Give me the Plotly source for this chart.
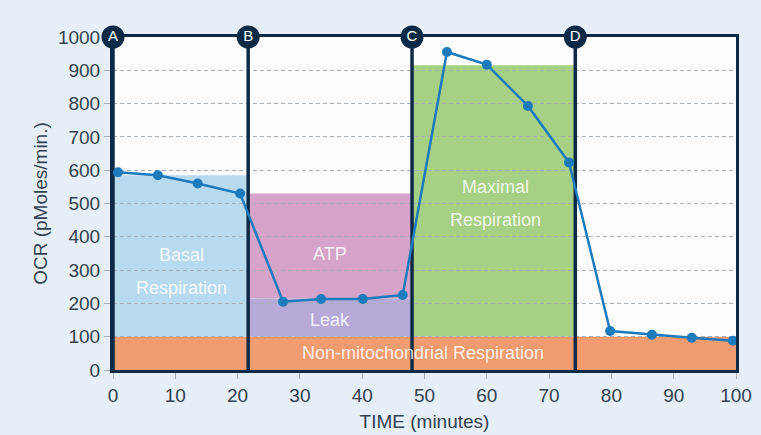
import plotly.graph_objects as go

# ─── Data ─────────────────────────────────────────────────────────────────────
time = [0.8, 7.2, 13.6, 20.4, 27.3, 33.4, 40.1, 46.5,
        53.6, 60.0, 66.6, 73.2, 79.8, 86.5, 92.9, 99.5]
ocr = [594, 585, 560, 530, 205, 213, 213, 225,
       955, 917, 793, 623, 117, 106, 97, 88]

injection_labels = ["A", "B", "C", "D"]
injection_time = [0, 21.7, 48.0, 74.2]

non_mito_top = 100
leak_top = 215
atp_top = 530
basal_top = 585
maximal_top = 915

x_ticks = [0, 10, 20, 30, 40, 50, 60, 70, 80, 90, 100]
y_ticks = [0, 100, 200, 300, 400, 500, 600, 700, 800, 900, 1000]

# ─── Theme ────────────────────────────────────────────────────────────────────
NAVY = "#0c2a46"
LINE = "#1b7bbd"
TEXT = "#34414f"
GRID = "#a7afb7"
FONT = "Liberation Sans, Arial, sans-serif"
LABEL = "rgba(255,255,255,0.85)"

BLUE = "#b8daef"
PINK = "#d6a4ca"
LAVENDER = "#b7a9d8"
GREEN = "#a6d083"
ORANGE = "#f09b70"

fig = go.Figure()

# Shaded regions
regions = [
    (injection_time[0], injection_time[1], non_mito_top, basal_top, BLUE),
    (injection_time[1], injection_time[2], leak_top, atp_top, PINK),
    (injection_time[1], injection_time[2], non_mito_top, leak_top, LAVENDER),
    (injection_time[2], injection_time[3], non_mito_top, maximal_top, GREEN),
    (0, 100, 0, non_mito_top, ORANGE),
]
for x0, x1, y0, y1, col in regions:
    fig.add_shape(type="rect", x0=x0, x1=x1, y0=y0, y1=y1, xref="x", yref="y",
                  fillcolor=col, line=dict(width=0), layer="below")

# Injection lines
for t in injection_time:
    fig.add_trace(go.Scatter(
        x=[t, t], y=[0, 1000], mode="lines",
        line=dict(color=NAVY, width=3.5),
        hoverinfo="skip", showlegend=False,
    ))

# OCR trace
fig.add_trace(go.Scatter(
    x=time, y=ocr, mode="lines+markers",
    line=dict(color=LINE, width=2.5),
    marker=dict(color=LINE, size=10),
    showlegend=False,
))

# Injection markers
fig.add_trace(go.Scatter(
    x=injection_time, y=[1000] * len(injection_time),
    mode="markers+text", text=injection_labels,
    textposition="middle center",
    textfont=dict(color="white", size=15, family=FONT),
    marker=dict(color=NAVY, size=23),
    cliponaxis=False, hoverinfo="skip", showlegend=False,
))

# Region labels
labels = [
    ("Basal", 11.0, 345), ("Respiration", 11.0, 246),
    ("ATP", 34.8, 348), ("Leak", 34.8, 150),
    ("Maximal", 61.4, 550), ("Respiration", 61.4, 450),
    ("Non-mitochondrial Respiration", 49.8, 50),
]
for txt, x, y in labels:
    fig.add_annotation(x=x, y=y, text=txt, showarrow=False,
                       font=dict(color=LABEL, size=18, family=FONT))

fig.update_layout(
    width=761, height=435,
    paper_bgcolor="#e6eff8",
    plot_bgcolor="#fdfdfd",
    font=dict(family=FONT, color=TEXT, size=18),
    margin=dict(l=113, r=25, t=37, b=65, autoexpand=False),
    xaxis=dict(
        range=[0, 100], tickvals=x_ticks, showgrid=False, zeroline=False,
        showline=True, linecolor=NAVY, linewidth=3, mirror=True,
        layer="below traces", automargin=False,
        ticks="outside", ticklen=6, tickcolor=GRID,
        tickfont=dict(size=19, color=TEXT),
        title=dict(text="TIME (minutes)", font=dict(size=19, color=TEXT), standoff=10),
    ),
    yaxis=dict(
        range=[0, 1000], tickvals=y_ticks, zeroline=False,
        showgrid=True, gridcolor=GRID, griddash="4px,3px", gridwidth=1,
        showline=True, linecolor=NAVY, linewidth=3, mirror=True,
        layer="below traces", automargin=False,
        ticks="outside", ticklen=6, tickcolor=GRID,
        tickfont=dict(size=19, color=TEXT),
        title=dict(text="OCR (pMoles/min.)", font=dict(size=19, color=TEXT), standoff=6),
    ),
)

fig.write_html("out.html", config={"displayModeBar": False},
               post_script="document.body.style.margin='0';")
